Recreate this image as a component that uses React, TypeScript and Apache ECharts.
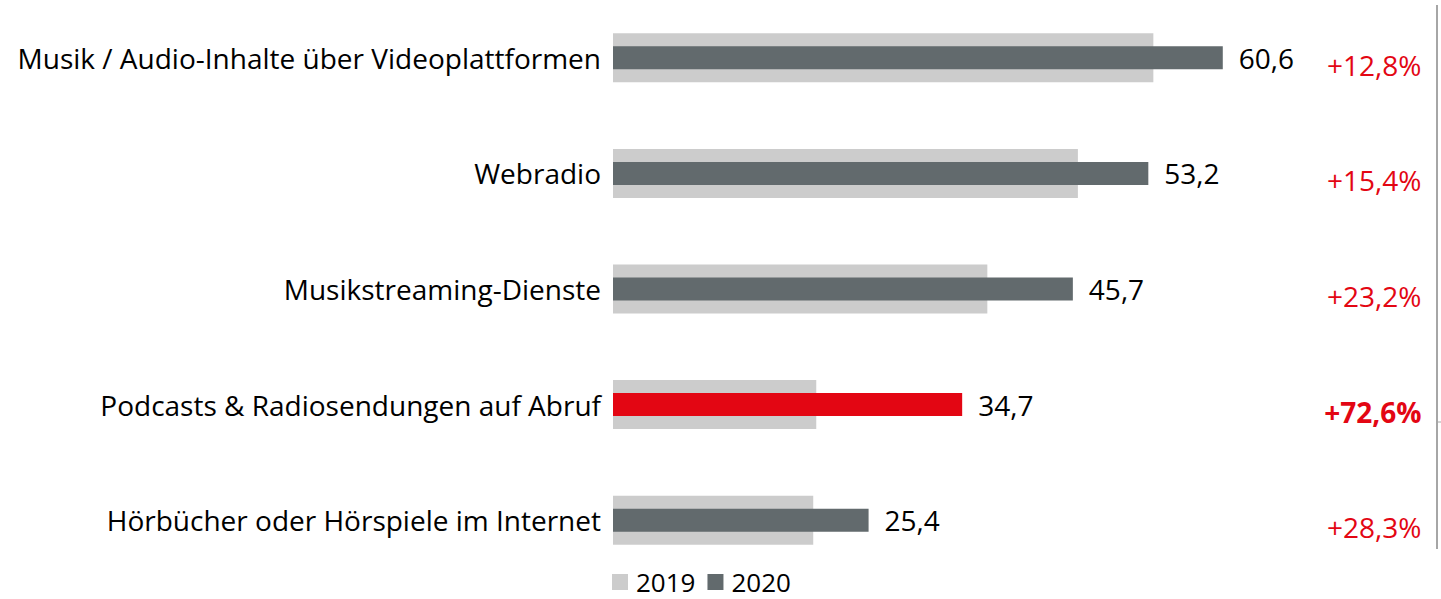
import React, { useEffect, useRef } from "react";
import * as echarts from "echarts";

const categories = [
  "Musik / Audio-Inhalte über Videoplattformen",
  "Webradio",
  "Musikstreaming-Dienste",
  "Podcasts & Radiosendungen auf Abruf",
  "Hörbücher oder Hörspiele im Internet",
];
const values2019 = [53.7, 46.2, 37.2, 20.2, 19.9];
const values2020 = [60.6, 53.2, 45.7, 34.7, 25.4];
const changes = ["+12,8%", "+15,4%", "+23,2%", "+72,6%", "+28,3%"];
const highlightIndex = 3;

const FONT = "'Open Sans', sans-serif";
const FS = 28;
const RED = "#e30613";
const DARK = "#626a6d";
const LIGHT = "#cccccc";
const X_MAX = 80;

export default function App() {
  const ref = useRef<HTMLDivElement>(null);
  useEffect(() => {
    if (!ref.current) return;
    const chart = echarts.init(ref.current, null, { renderer: "svg" });
    const catAxis = (show: boolean) => ({
      type: "category" as const,
      data: categories,
      inverse: true,
      show,
      axisLine: { show: false },
      axisTick: { show: false },
      axisLabel: {
        show,
        color: "#000",
        fontSize: FS,
        fontFamily: FONT,
        margin: 12,
      },
    });
    chart.setOption({
      animation: false,
      textStyle: { fontFamily: FONT },
      grid: { left: 613, right: 1441 - 613 - 805, top: 0, height: 578, containLabel: false },
      xAxis: { type: "value", min: 0, max: X_MAX, show: false },
      yAxis: [catAxis(true), catAxis(false), catAxis(false)],
      legend: {
        left: 612,
        top: 569,
        padding: 0,
        itemWidth: 16,
        itemHeight: 16,
        itemGap: 12,
        icon: "rect",
        textStyle: {
          fontSize: 26,
          lineHeight: 26,
          color: "#000",
          fontFamily: FONT,
          padding: [0, 0, 0, 3],
        },
        data: ["2019", "2020"],
      },
      series: [
        {
          name: "2019",
          type: "bar",
          yAxisIndex: 1,
          barWidth: 49,
          itemStyle: { color: LIGHT },
          data: values2019,
          z: 1,
        },
        {
          name: "2020",
          type: "bar",
          yAxisIndex: 0,
          barWidth: 23,
          itemStyle: { color: DARK },
          data: values2020.map((v, i) =>
            i === highlightIndex ? { value: v, itemStyle: { color: RED } } : v
          ),
          label: {
            show: true,
            position: "right",
            distance: 16,
            color: "#000",
            fontSize: FS,
            fontFamily: FONT,
            formatter: (p: any) => String(p.value).replace(".", ","),
          },
          z: 2,
        },
        {
          name: "change",
          type: "scatter",
          yAxisIndex: 2,
          symbol: "circle",
          symbolSize: 1,
          itemStyle: { color: "rgba(0,0,0,0)", opacity: 1 },
          clip: false,
          silent: true,
          data: changes.map((c, i) => ({
            value: [X_MAX, i],
            label: {
              fontWeight: i === highlightIndex ? "bold" : "normal",
            },
          })),
          label: {
            show: true,
            position: "left",
            distance: 0,
            offset: [4, 7],
            color: RED,
            fontSize: FS,
            fontFamily: FONT,
            formatter: (p: any) => changes[p.dataIndex],
          },
        },
      ],
      graphic: [
        {
          type: "line",
          shape: { x1: 1437, y1: 5, x2: 1437, y2: 549 },
          style: { stroke: "#a6a6a6", lineWidth: 2 },
        },
        {
          type: "line",
          shape: { x1: 1437, y1: 422, x2: 1441, y2: 422 },
          style: { stroke: "#a6a6a6", lineWidth: 1 },
        },
      ],
    });
    return () => chart.dispose();
  }, []);
  return <div ref={ref} style={{ width: 1441, height: 599, position: "absolute", left: 0, top: 0 }} />;
}
